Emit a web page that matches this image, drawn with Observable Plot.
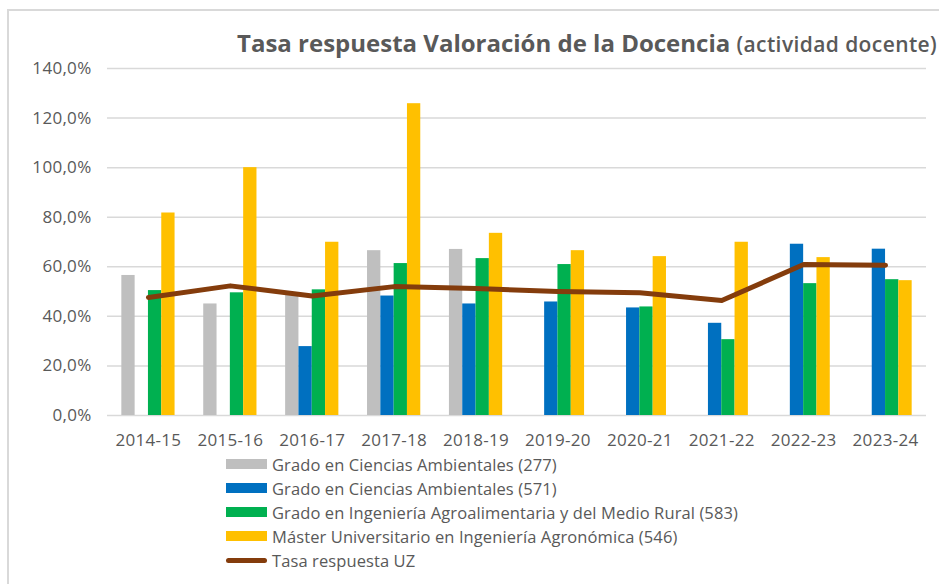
<!DOCTYPE html>
<html>
<head>
<meta charset="utf-8">
<script src="https://cdn.jsdelivr.net/npm/d3@7"></script>
<script src="https://cdn.jsdelivr.net/npm/@observablehq/plot@0.6"></script>
<style>
  body { margin: 0; background: #fff; font-family: "Open Sans", sans-serif; }
  #wrap { position: relative; width: 939px; height: 584px; overflow: hidden; background: #fff; }
  #frame { position: absolute; left: 7px; top: 9px; right: -20px; bottom: -20px;
           border-left: 2px solid #d9d9d9; border-top: 2px solid #d9d9d9; }
  #title { position: absolute; left: 237px; top: 26px; white-space: nowrap; color: #595959;
           font-weight: 700; font-size: 24px; }
  #title span { font-size: 21px; font-weight: 600; letter-spacing: 0.4px; }
  #chart { position: absolute; left: 0; top: 0; }
  #legend { position: absolute; left: 226px; top: 452px; }
  .row { height: 24px; display: flex; align-items: center; font-size: 16.5px; letter-spacing: 0.1px; color: #595959; white-space: nowrap; }
  .sw { width: 41px; height: 10px; margin-right: 5px; flex: none; }
  .ln { width: 41px; height: 5px; border-radius: 3px; margin-right: 5px; flex: none; }
  svg text { letter-spacing: 0.3px; }
</style>
</head>
<body>
<div id="wrap">
  <div id="frame"></div>
  <div id="chart"></div>
  <div id="title">Tasa respuesta Valoración de la Docencia <span>(actividad docente)</span></div>
  <div id="legend"></div>
</div>
<script>
const years = ["2014-15","2015-16","2016-17","2017-18","2018-19","2019-20","2020-21","2021-22","2022-23","2023-24"];
const seriesNames = [
  "Grado en Ciencias Ambientales (277)",
  "Grado en Ciencias Ambientales (571)",
  "Grado en  Ingeniería Agroalimentaria y del Medio Rural (583)",
  "Máster Universitario en Ingeniería Agronómica (546)"
];
const lineName = "Tasa respuesta UZ";
const cienciasAmb277 = [56.5, 45.0, 48.7, 66.5, 67.0, null, null, null, null, null];
const cienciasAmb571 = [null, null, 27.8, 48.2, 45.0, 45.8, 43.4, 37.2, 69.1, 67.1];
const ingAgro583     = [50.4, 49.5, 50.7, 61.3, 63.3, 60.9, 43.8, 30.6, 53.2, 54.8];
const master546      = [81.7, 100.0, 69.9, 125.8, 73.5, 66.5, 64.1, 69.9, 63.7, 54.4];
const tasaUZ         = [47.6, 52.3, 48.2, 52.0, 51.2, 50.0, 49.5, 46.4, 60.9, 60.6];
const yTicks = [0, 20, 40, 60, 80, 100, 120, 140];

const colors = ["#BFBFBF", "#0070C0", "#00B050", "#FFC000"];
const lineColor = "#843C0C";
const seriesValues = [cienciasAmb277, cienciasAmb571, ingAgro583, master546];

const W = 939, H = 584, mL = 107, mR = 13, mT = 68, mB = 169;
const pInner = 0.35, pOuter = 0.175;
const step = (W - mL - mR) / (years.length - pInner + 2 * pOuter);
const bandwidth = step * (1 - pInner);
const slot = bandwidth / 4;

const barMarks = seriesValues.map((vals, j) => {
  const rows = years.map((yr, i) => ({year: yr, value: vals[i]})).filter(d => d.value != null);
  return Plot.barY(rows, {
    x: "year", y: "value", fill: colors[j],
    insetLeft: j * slot, insetRight: (3 - j) * slot
  });
});
const lineRows = years.map((yr, i) => ({year: yr, value: tasaUZ[i]}));

const chart = Plot.plot({
  width: W, height: H,
  marginLeft: mL, marginRight: mR, marginTop: mT, marginBottom: mB,
  style: {fontFamily: "'Open Sans', sans-serif", fontSize: "16px", color: "#595959", background: "transparent"},
  x: {type: "band", domain: years, paddingInner: pInner, paddingOuter: pOuter, round: false},
  y: {domain: [0, 140]},
  marks: [
    Plot.ruleY(yTicks, {stroke: "#d9d9d9", strokeWidth: 1.5}),
    ...barMarks,
    Plot.line(lineRows, {x: "year", y: "value", stroke: lineColor, strokeWidth: 5,
      strokeLinecap: "round", strokeLinejoin: "round"}),
    Plot.axisY({ticks: yTicks, tickSize: 0, tickPadding: 16, label: null,
      tickFormat: d => d.toFixed(1).replace(".", ",") + "%", fontSize: 17, color: "#595959"}),
    Plot.axisX({tickSize: 0, tickPadding: 18, label: null, fontSize: 17, color: "#595959"})
  ]
});
document.getElementById("chart").appendChild(chart);

const legend = document.getElementById("legend");
seriesNames.forEach((name, j) => {
  const row = document.createElement("div");
  row.className = "row";
  const sw = document.createElement("div");
  sw.className = "sw"; sw.style.background = colors[j];
  const t = document.createElement("span"); t.textContent = name;
  row.appendChild(sw); row.appendChild(t);
  legend.appendChild(row);
});
{
  const row = document.createElement("div");
  row.className = "row";
  const sw = document.createElement("div");
  sw.className = "ln"; sw.style.background = lineColor;
  const t = document.createElement("span"); t.textContent = lineName;
  row.appendChild(sw); row.appendChild(t);
  legend.appendChild(row);
}
</script>
</body>
</html>
